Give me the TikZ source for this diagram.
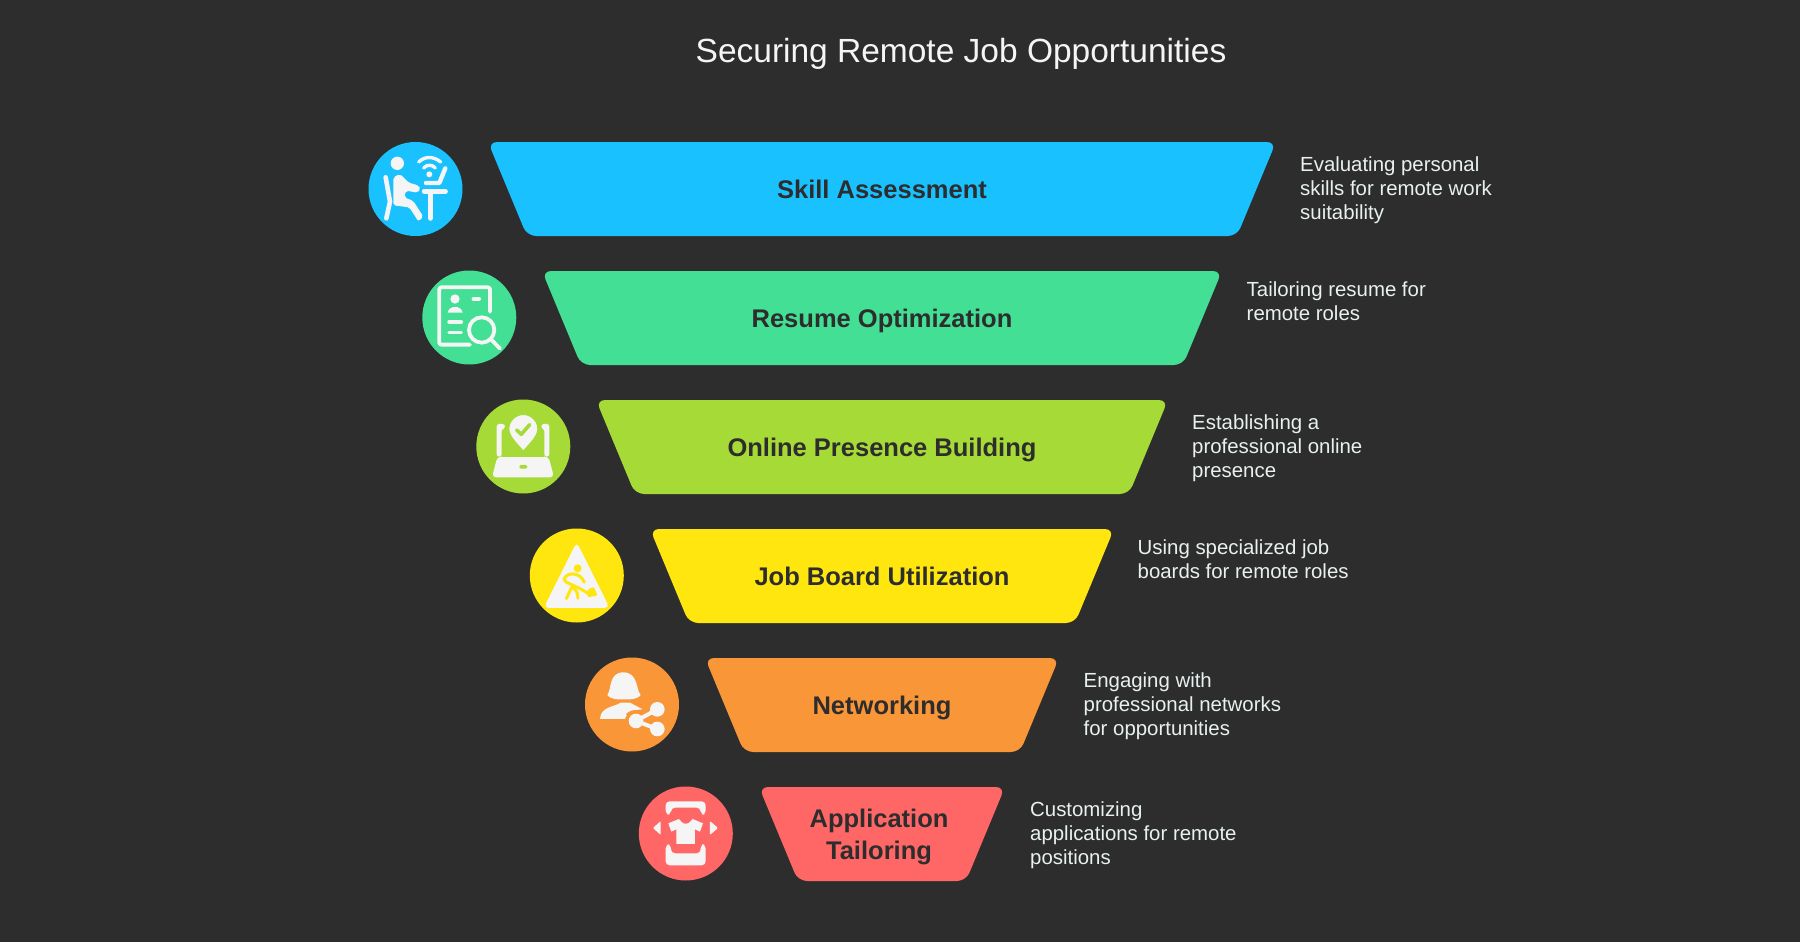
\documentclass[tikz,border=0pt]{standalone}
\usepackage{fontspec}
\setmainfont{Liberation Sans}
\definecolor{bg}{HTML}{2D2D2D}
\definecolor{ink}{HTML}{F5F5F5}
\definecolor{desc}{HTML}{E8F0F0}
\definecolor{cblue}{HTML}{19C1FF}
\definecolor{cgreen}{HTML}{43DF95}
\definecolor{clime}{HTML}{A6DA36}
\definecolor{cyellow}{HTML}{FFE60F}
\definecolor{corange}{HTML}{F99638}
\definecolor{cred}{HTML}{FF6767}
\tikzset{
  titletext/.style={text=ink,font=\fontsize{33.5}{38}\selectfont,inner sep=0pt},
  stagetext/.style={text=bg,font=\fontsize{25.5}{32}\selectfont\bfseries,align=center,inner sep=0pt},
  desctext/.style={text=desc,font=\fontsize{20.4}{24}\selectfont,align=left,anchor=west,inner sep=0pt},
  stage/.style={rounded corners=9pt},
  badge/.style={inner sep=0pt,minimum size=94pt,circle},
  line/.style={draw=ink,line cap=round,line join=round},
  solid ink/.style={fill=ink,draw=none},
}
\begin{document}
\begin{tikzpicture}[x=1pt,y=-1pt]
\useasboundingbox (0,0) rectangle (1800,942);
\fill[bg] (0,0) rectangle (1800,942);
\node[titletext] (title) at (961,54) {Securing Remote Job Opportunities};

% stages
\fill[cblue,stage]   (488,142) -- (1276,142) -- (1237,236) -- (527,236) -- cycle;
\fill[cgreen,stage]  (542,271) -- (1222,271) -- (1183,365) -- (581,365) -- cycle;
\fill[clime,stage]   (596,400) -- (1168,400) -- (1129,494) -- (635,494) -- cycle;
\fill[cyellow,stage] (650,529) -- (1114,529) -- (1075,623) -- (689,623) -- cycle;
\fill[corange,stage] (705,658) -- (1059,658) -- (1020,752) -- (744,752) -- cycle;
\fill[cred,stage]    (759,787) -- (1005,787) -- (966,881) -- (798,881) -- cycle;

\node[stagetext] (s1) at (882,189) {Skill Assessment};
\node[stagetext] (s2) at (882,321) {Resume Optimization};
\node[stagetext] (s3) at (882,450) {Online Presence Building};
\node[stagetext] (s4) at (882,576) {Job Board Utilization};
\node[stagetext] (s5) at (882,708) {Networking};
\node[stagetext] (s6) at (879,837) {Application\\Tailoring};

\node[desctext] (d1) at (1300,190) {Evaluating personal\\skills for remote work\\suitability};
\node[desctext] (d2) at (1246.5,301) {Tailoring resume for\\remote roles};
\node[desctext] (d3) at (1192,448) {Establishing a\\professional online\\presence};
\node[desctext] (d4) at (1137.5,559) {Using specialized job\\boards for remote roles};
\node[desctext] (d5) at (1083.5,706) {Engaging with\\professional networks\\for opportunities};
\node[desctext] (d6) at (1030,835) {Customizing\\applications for remote\\positions};

% badges
\node[badge,fill=cblue]   (b1) at (415.5,189) {};
\node[badge,fill=cgreen]  (b2) at (469.3,317.5) {};
\node[badge,fill=clime]   (b3) at (523.3,446.5) {};
\node[badge,fill=cyellow] (b4) at (576.8,575.5) {};
\node[badge,fill=corange] (b5) at (632,704.5) {};
\node[badge,fill=cred]    (b6) at (685.8,833.5) {};

% icon 1
\begin{scope}[shift={(350,120)},x=0.3333pt,y=-0.3333pt]
\fill[ink] (142,130) circle (20);
\path[solid ink,rounded corners=2pt] (130,172) -- (150,162) -- (176,188) -- (205,196) -- (212,207) -- (203,218) -- (168,212) -- (163,232) -- (190,243) -- (220,290) -- (205,304) -- (178,262) -- (130,256) -- cycle;
\draw[line,line width=4.6pt] (107,172) -- (120,245) -- (109,295);
\draw[line,line width=4.4pt] (222,214) -- (287,214);
\draw[line,line width=5pt] (241,214) -- (241,295);
\draw[line,line width=4.4pt] (228,189) -- (268,189) -- (286,145);
\draw[line,line width=3.4pt] (206,126) .. controls (225,108) and (250,108) .. (272,126);
\draw[line,line width=3.4pt] (221,144) .. controls (230,133) and (247,133) .. (256,144);
\fill[ink] (238,163) circle (9);
\end{scope}

% icon 2
\begin{scope}[shift={(350,120)},x=0.3333pt,y=-0.3333pt]
\draw[line,line width=3.8pt,rounded corners=2pt] (420,575) -- (420,502) -- (268,502) -- (268,674) -- (360,674);
\fill[ink] (315,537) circle (14);
\draw[line,line width=3.4pt] (370,537) -- (388,537);
\fill[ink] (293,578) .. controls (297,555) and (334,555) .. (338,578) -- cycle;
\draw[line,line width=3.4pt] (297,606) -- (334,606);
\draw[line,line width=3.4pt] (297,638) -- (334,638);
\draw[line,line width=3.8pt] (395,630) circle (38);
\draw[line,line width=3.8pt] (425,660) -- (450,686);
\end{scope}

% icon 3
\begin{scope}[shift={(460,390)},x=0.3333pt,y=-0.3333pt]
\path[solid ink,rounded corners=2.5pt] (110,200) -- (110,102) -- (135,102) -- (135,116) -- (125,116) -- (125,200) -- cycle;
\path[solid ink,rounded corners=2.5pt] (268,200) -- (268,102) -- (244,102) -- (244,116) -- (253,116) -- (253,200) -- cycle;
\path[solid ink,rounded corners=4pt] (112,200) -- (266,200) -- (282,262) -- (96,262) -- cycle;
\draw[clime,line width=1pt] (125,199) -- (253,199);
\path[draw=clime,line width=2pt,fill=ink] (190,186) .. controls (170,162) and (145,140) .. (145,117) .. controls (145,90) and (168,72) .. (190,72) .. controls (212,72) and (235,90) .. (235,117) .. controls (235,140) and (210,162) .. (190,186) -- cycle;
\draw[clime,line width=3.6pt,line cap=round,line join=round] (170,120) -- (184,133) -- (209,104);
\fill[clime,rounded corners=1.5pt] (178,225) rectangle (202,236);
\end{scope}

% icon 4
\begin{scope}[shift={(460,390)},x=0.3333pt,y=-0.3333pt]
\path[solid ink,rounded corners=5pt] (350,456) -- (449,654) -- (251,654) -- cycle;
\fill[cyellow] (353,535) circle (12);
\draw[cyellow,line width=3pt,line cap=round,line join=round] (373,577) .. controls (360,545) and (320,545) .. (312,568) .. controls (315,580) and (340,582) .. (384,610);
\draw[cyellow,line width=3pt,line cap=round] (335,592) -- (319,626);
\draw[cyellow,line width=3pt,line cap=round] (340,595) .. controls (352,602) and (353,612) .. (354,625);
\fill[cyellow,rounded corners=1.5pt] (382,600) -- (401,590) -- (413,617) -- (382,622) -- cycle;
\end{scope}

% icon 5
\begin{scope}[shift={(570,650)},x=0.3333pt,y=-0.3333pt]
\path[solid ink] (112,135) .. controls (125,120) and (115,67) .. (160,67) .. controls (205,67) and (198,120) .. (212,135) .. controls (205,145) and (190,147) .. (180,148) -- (142,148) .. controls (130,147) and (118,143) .. (112,135) -- cycle;
\path[solid ink] (90,207) .. controls (92,170) and (130,172) .. (152,158) -- (180,158) -- (218,178) .. controls (195,178) and (170,185) .. (165,207) -- cycle;
\draw[corange,line width=4pt] (172,197) .. controls (178,190) and (190,185) .. (200,186);
\draw[line,line width=4pt] (198,213) -- (262,178);
\draw[line,line width=4pt] (198,213) -- (262,237);
\fill[ink] (198,213) circle (22);
\fill[ink] (262,178) circle (22);
\fill[ink] (262,237) circle (22);
\end{scope}

% icon 6
\begin{scope}[shift={(570,650)},x=0.3333pt,y=-0.3333pt]
\path[solid ink,rounded corners=4pt] (287,494) -- (287,454) -- (407,454) -- (407,494) -- (392,494) -- (392,473) -- (303,473) -- (303,494) -- cycle;
\path[solid ink,rounded corners=4pt] (287,583) -- (303,583) -- (303,610) -- (392,610) -- (392,583) -- (407,583) -- (407,646) -- (287,646) -- cycle;
\path[solid ink] (295,520) -- (327,507) -- (335,516) .. controls (342,523) and (352,523) .. (360,516) -- (368,507) -- (399,520) -- (390,545) -- (375,538) -- (375,582) -- (319,582) -- (319,538) -- (304,545) -- cycle;
\path[solid ink,rounded corners=1pt] (272,513) -- (272,555) -- (249,534) -- cycle;
\path[solid ink,rounded corners=1pt] (420,513) -- (420,555) -- (444,534) -- cycle;
\end{scope}
\end{tikzpicture}
\end{document}
